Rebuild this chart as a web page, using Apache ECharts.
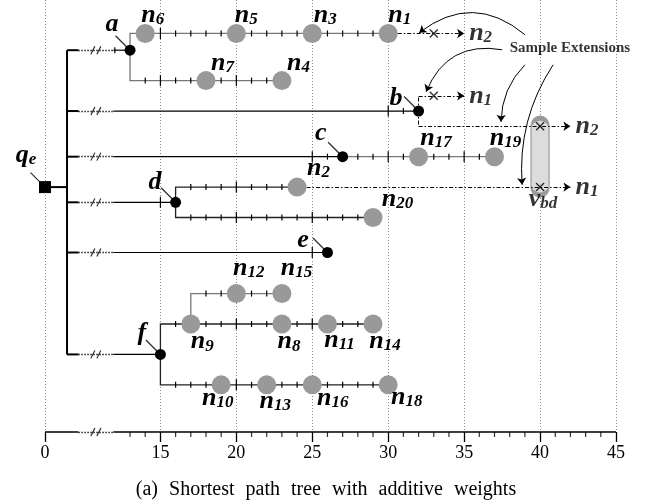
<!DOCTYPE html>
<html><head><meta charset="utf-8">
<script src="https://cdn.jsdelivr.net/npm/echarts@6.0.0/dist/echarts.min.js"></script>
<style>html,body{margin:0;padding:0;background:#fff}#c{width:652px;height:504px}</style>
</head><body><div id="c"></div>
<script>
// ---------------- DATA ----------------
const xTickLabels = [0, 15, 20, 25, 30, 35, 40, 45];
const hubNames = ['a', 'b', 'c', 'd', 'e', 'f'];
const hubDist  = [13, 32, 27, 16, 26, 15];
const aTopNodes = ['n6', 'n5', 'n3', 'n1'];   const aTopDist = [14, 20, 25, 30];
const aBotNodes = ['n7', 'n4'];               const aBotDist = [18, 23];
const cNodes    = ['n17', 'n19'];             const cDist    = [32, 37];
const dTopNodes = ['n2'];                     const dTopDist = [24];
const dBotNodes = ['n20'];                    const dBotDist = [29];
const n9UpNodes = ['n12', 'n15'];             const n9UpDist = [20, 23];
const fTopNodes = ['n9', 'n8', 'n11', 'n14']; const fTopDist = [17, 23, 26, 29];
const fBotNodes = ['n10', 'n13', 'n16', 'n18']; const fBotDist = [19, 22, 25, 30];
const extFrom   = [30, 32, 32, 24];
const extCross  = [33, 33, 40, 40];
const extTarget = ['n2', 'n1', 'n2', 'n1'];
const calloutText = 'Sample Extensions';
const caption = '(a) Shortest path tree with additive weights';

// ---------------- LAYOUT ----------------
const ROW = {aTop: 26.2, a: 25.1, aBot: 23.1, bUp: 22.1, b: 21.1, bDown: 20.1, c: 18.1,
  q: 16.1, dTop: 16.1, d: 15.1, dBot: 14.1, e: 11.8, n9Up: 9.1, fTop: 7.1, f: 5.1, fBot: 3.1};
const extRow = ['aTop', 'bUp', 'bDown', 'dTop'];
const TRUNK_X = 1.45, BRK_S = 2.2, BRK_E = 11.9, BRK_GAP = 2.3, ARROW_LEN = 2;
const LABEL_OFF = {
  n6: [7.5, -18.6], n5: [10, -18.6], n3: [13, -18.6], n1: [11.5, -18.6],
  n7: [16.5, -17.8], n4: [16.5, -17.8], n17: [17.5, -18.5], n19: [11, -18.5],
  n2: [21.5, -18.5], n20: [24.5, -18], n12: [12.5, -25], n15: [14.5, -25],
  n9: [11.5, 17.7], n8: [7, 17.7], n11: [12, 16.5], n14: [12, 17],
  n10: [-3.5, 13], n13: [8.5, 16.7], n16: [20.5, 13.2], n18: [18.5, 12.2],
  a: [-18, -26.3], b: [-22.5, -12.5], c: [-22, -23.5], d: [-20.5, -20], e: [-24.5, -12], f: [-18.5, -21],
  q: [-19, -31.5], v: [3, 12]
};
const CALLOUTS = [
  {from: [39.0, 26.12], to: [32.04, 26.25], curv: -0.4},
  {from: [37.5, 25.13], to: [32.5, 22.37], curv: -0.4},
  {from: [39.0, 24.14], to: [37.43, 20.39], curv: -0.2},
  {from: [40.86, 24.14], to: [38.82, 16.25], curv: -0.17}
];
const CALLOUT_TEXT_POS = [41.97, 25.26];
const GRAY = '#999999', BRANCH_GRAY = '#777777';

// ---------------- BUILD ----------------
const FONT = 'Liberation Serif';
const rich = {
  m: {fontFamily: FONT, fontSize: 26, fontWeight: 'bold', fontStyle: 'italic', lineHeight: 26, verticalAlign: 'bottom', color: '#000', textBorderWidth: 0},
  s: {fontFamily: FONT, fontSize: 17, fontWeight: 'bold', fontStyle: 'italic', lineHeight: 8, verticalAlign: 'bottom', color: '#000', textBorderWidth: 0}
};
function fmt(name) {
  if (name === 'q') return '{m|q}{s|e}';
  if (name === 'v') return '{m|v}{s|bd}';
  const m = name.match(/^([a-z])(\d*)$/);
  return m[2] ? '{m|' + m[1] + '}{s|' + m[2] + '}' : '{m|' + m[1] + '}';
}
const hubX = h => hubDist[hubNames.indexOf(h)];

const groups = [
  [aTopNodes, aTopDist, 'aTop'], [aBotNodes, aBotDist, 'aBot'], [cNodes, cDist, 'c'],
  [dTopNodes, dTopDist, 'dTop'], [dBotNodes, dBotDist, 'dBot'], [n9UpNodes, n9UpDist, 'n9Up'],
  [fTopNodes, fTopDist, 'fTop'], [fBotNodes, fBotDist, 'fBot']
];
const grayData = [];
groups.forEach(([names, dists, row]) => names.forEach((n, i) => grayData.push({
  name: n, value: [dists[i], ROW[row]], label: {offset: LABEL_OFF[n]}
})));

// solid edges
const solid = [];
const push = (coords, w, c) => solid.push({coords, lineStyle: {width: w, color: c}});
push([[TRUNK_X, ROW.a], [TRUNK_X, ROW.f]], 2, '#000');
push([[0, ROW.q], [TRUNK_X, ROW.q]], 2, '#000');
hubNames.forEach((h, i) => {
  push([[TRUNK_X, ROW[h]], [BRK_S, ROW[h]]], 2, '#000');
  push([[BRK_E, ROW[h]], [hubDist[i], ROW[h]]], 1.2, '#000');
});
push([[0, 0], [BRK_S, 0]], 1.5, '#000');
push([[BRK_E, 0], [45, 0]], 1.5, '#000');
const last = a => a[a.length - 1];
push([[last(aTopDist), ROW.aTop], [hubX('a'), ROW.aTop], [hubX('a'), ROW.aBot], [last(aBotDist), ROW.aBot]], 1.3, BRANCH_GRAY);
push([[hubX('c'), ROW.c], [last(cDist), ROW.c]], 1.3, BRANCH_GRAY);
push([[last(dTopDist), ROW.dTop], [hubX('d'), ROW.dTop], [hubX('d'), ROW.dBot], [last(dBotDist), ROW.dBot]], 1.3, '#222');
push([[last(fTopDist), ROW.fTop], [hubX('f'), ROW.fTop], [hubX('f'), ROW.fBot], [last(fBotDist), ROW.fBot]], 1.3, '#222');
push([[fTopDist[0], ROW.fTop], [fTopDist[0], ROW.n9Up], [last(n9UpDist), ROW.n9Up]], 1.3, BRANCH_GRAY);

const dotted = hubNames.map(h => ({coords: [[BRK_S, ROW[h]], [BRK_E, ROW[h]]]}));
dotted.push({coords: [[BRK_S, 0], [BRK_E, 0]]});
const breakMarks = hubNames.map(h => [(BRK_S + BRK_E) / 2, ROW[h]]);
breakMarks.push([(BRK_S + BRK_E) / 2, 0]);

// ticks along branches
const ticks = [];
function addTicks(x0, x1, y, skip) {
  for (let k = Math.floor(x0) + 1; k < x1; k++) if (!skip.includes(k)) ticks.push([k, y, k % 5 === 0 ? 1 : 0]);
}
addTicks(hubX('a'), last(aTopDist), ROW.aTop, aTopDist);
addTicks(hubX('a'), last(aBotDist), ROW.aBot, aBotDist);
addTicks(hubX('c'), last(cDist), ROW.c, cDist);
addTicks(hubX('d'), last(dTopDist), ROW.dTop, dTopDist);
addTicks(hubX('d'), last(dBotDist), ROW.dBot, dBotDist);
addTicks(fTopDist[0], last(n9UpDist), ROW.n9Up, n9UpDist);
addTicks(hubX('f'), last(fTopDist), ROW.fTop, fTopDist);
addTicks(hubX('f'), last(fBotDist), ROW.fBot, fBotDist);
hubNames.forEach((h, i) => {
  const start = Math.floor(hubDist[i] / 5) * 5;
  for (let k = start; k < hubDist[i]; k++) if (k >= 12) ticks.push([k, ROW[h], k % 5 === 0 ? 1 : 0]);
});
const axisMinor = [];
for (let k = 13; k < 45; k++) if (k % 5 !== 0) axisMinor.push([k, 0]);

// extensions
const extVert = [], extArrows = [], crosses = [], extLabels = [];
extFrom.forEach((x0, i) => {
  const y = ROW[extRow[i]];
  if (extRow[i] === 'bUp' || extRow[i] === 'bDown') extVert.push({coords: [[x0, ROW.b], [x0, y]]});
  extArrows.push({coords: [[x0, y], [extCross[i] + ARROW_LEN, y]]});
  crosses.push([extCross[i], y]);
  extLabels.push({name: extTarget[i], value: [extCross[i] + ARROW_LEN, y]});
});
const pillY = (ROW.bDown + ROW.dTop) / 2;

const option = {
  animation: false,
  backgroundColor: '#fff',
  title: {text: caption.split(' ').join('{sp| }'), left: 'center', top: 475,
    textStyle: {fontFamily: FONT, fontSize: 20, fontWeight: 'normal', color: '#000',
      rich: {sp: {width: 11, fontFamily: FONT, fontSize: 20}}}},
  grid: {left: 45, right: 36, top: 0, bottom: 72},
  xAxis: {
    type: 'value', min: 0, max: 45,
    breaks: [{start: BRK_S, end: BRK_E, gap: BRK_GAP}],
    breakArea: {show: false},
    axisLine: {show: false},
    axisTick: {show: true, customValues: xTickLabels, length: 10, lineStyle: {color: '#000', width: 1.3}},
    axisLabel: {customValues: xTickLabels, fontFamily: FONT, fontSize: 18, color: '#000', margin: 12},
    splitLine: {show: true, lineStyle: {type: [1, 2], color: '#888', width: 1}}
  },
  yAxis: {type: 'value', min: 0, max: 28.4, show: false},
  series: [
    {type: 'scatter', name: 'pill', z: 1, clip: false, silent: true,
      symbol: 'path://M9 0 A9 9 0 0 1 18 9 L18 68 A9 9 0 0 1 0 68 L0 9 A9 9 0 0 1 9 0 Z',
      symbolSize: [18, 77], data: [[extCross[2], pillY]],
      itemStyle: {color: '#dcdcdc', borderColor: '#9a9a9a', borderWidth: 2.5, opacity: 1}},
    {type: 'lines', name: 'solid', coordinateSystem: 'cartesian2d', polyline: true, clip: false, z: 2,
      lineStyle: {opacity: 1}, data: solid},
    {type: 'lines', name: 'dotted', coordinateSystem: 'cartesian2d', clip: false, z: 2,
      lineStyle: {opacity: 1, color: '#000', width: 1.3, type: [1.3, 1.7]}, data: dotted},
    {type: 'lines', name: 'extVert', coordinateSystem: 'cartesian2d', clip: false, z: 2,
      lineStyle: {opacity: 1, color: '#000', width: 1, type: [4, 2, 1.5, 2]}, data: extVert},
    {type: 'lines', name: 'ext', coordinateSystem: 'cartesian2d', clip: false, z: 2,
      symbol: ['none', 'arrow'], symbolSize: 7,
      lineStyle: {opacity: 1, color: '#000', width: 1, type: [4, 2, 1.5, 2]}, data: extArrows},
    {type: 'lines', name: 'callouts', coordinateSystem: 'cartesian2d', clip: false, z: 2,
      symbol: ['none', 'arrow'], symbolSize: 7,
      lineStyle: {opacity: 1, color: '#000', width: 1},
      data: CALLOUTS.map(c => ({coords: [c.from, c.to], lineStyle: {curveness: c.curv}}))},
    {type: 'scatter', name: 'ticks', z: 3, clip: false, silent: true, symbol: 'rect',
      data: ticks, symbolSize: v => v[2] ? [1.2, 11] : [1.2, 6], itemStyle: {color: '#000', opacity: 1}},
    {type: 'scatter', name: 'axisMinor', z: 3, clip: false, silent: true, symbol: 'rect',
      data: axisMinor, symbolSize: [1.2, 5], symbolOffset: [0, 2.5], itemStyle: {color: '#000'}},
    {type: 'scatter', name: 'breaks', z: 3, clip: false, silent: true,
      symbol: 'path://M4,0L0,10M10,0L6,10', symbolSize: [10, 8], data: breakMarks,
      itemStyle: {color: 'none', borderColor: '#000', borderWidth: 1.1}},
    {type: 'scatter', name: 'crosses', z: 4, clip: false, silent: true,
      symbol: 'path://M0,0L10,10M10,0L0,10', symbolSize: 8, data: crosses,
      itemStyle: {color: 'none', borderColor: '#000', borderWidth: 1.4}},
    {type: 'scatter', name: 'leaders', z: 3, clip: false, silent: true,
      symbol: 'path://M0,0L10,10', symbolSize: 13, symbolOffset: [-8, -8],
      data: hubNames.map((h, i) => [hubDist[i], ROW[h]]).concat([[0, ROW.q]]),
      itemStyle: {color: 'none', borderColor: '#000', borderWidth: 1.3}},
    {type: 'scatter', name: 'gray', z: 5, clip: false, symbol: 'circle', symbolSize: 19,
      itemStyle: {color: GRAY, opacity: 1}, data: grayData,
      label: {show: true, position: 'inside', formatter: p => fmt(p.name), rich}},
    {type: 'scatter', name: 'hubs', z: 6, clip: false, symbol: 'circle', symbolSize: 11,
      itemStyle: {color: '#000', opacity: 1},
      data: hubNames.map((h, i) => ({name: h, value: [hubDist[i], ROW[h]], label: {offset: LABEL_OFF[h]}})),
      label: {show: true, position: 'inside', formatter: p => fmt(p.name), rich}},
    {type: 'scatter', name: 'qe', z: 6, clip: false, symbol: 'rect', symbolSize: 12,
      itemStyle: {color: '#000', opacity: 1},
      data: [{name: 'q', value: [0, ROW.q], label: {offset: LABEL_OFF.q}}],
      label: {show: true, position: 'inside', formatter: p => fmt(p.name), rich}},
    {type: 'scatter', name: 'vbd', z: 6, clip: false, symbolSize: 0,
      data: [{name: 'v', value: [extCross[3], ROW.dTop], label: {offset: LABEL_OFF.v}}],
      label: {show: true, position: 'inside', formatter: p => fmt(p.name), rich}},
    {type: 'scatter', name: 'extLabels', z: 6, clip: false, symbolSize: 0, data: extLabels,
      label: {show: true, position: 'right', distance: 5, formatter: p => fmt(p.name), rich}},
    {type: 'scatter', name: 'calloutText', z: 6, clip: false, symbolSize: 0,
      data: [{name: calloutText, value: CALLOUT_TEXT_POS}],
      label: {show: true, position: 'inside', formatter: p => p.name,
        fontFamily: FONT, fontSize: 15, fontWeight: 'bold', color: '#000', textBorderWidth: 0}}
  ]
};
const chart = echarts.init(document.getElementById('c'), null, {renderer: 'canvas'});
chart.setOption(option);
</script></body></html>
